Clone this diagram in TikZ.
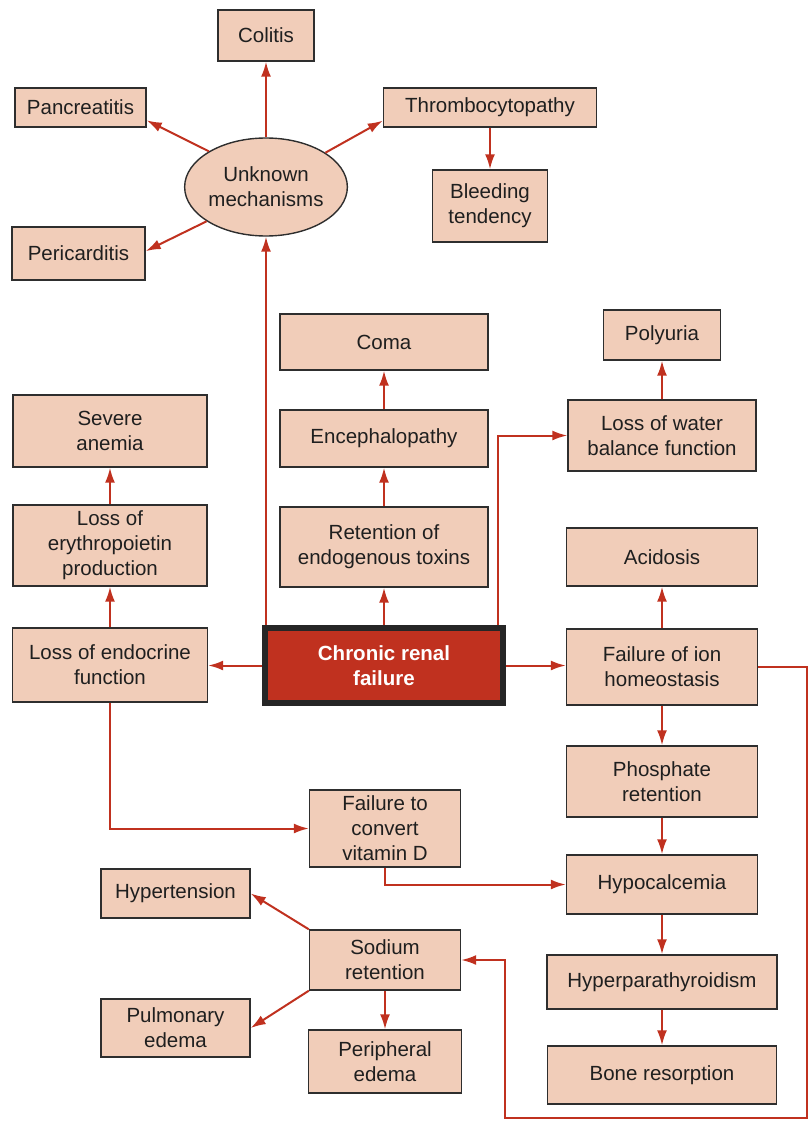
\documentclass[tikz,border=0pt]{standalone}
\usepackage{fontspec}
\setmainfont{Liberation Sans}
\usetikzlibrary{positioning, shapes.geometric, arrows.meta}
\definecolor{boxfill}{HTML}{F1CDB9}
\definecolor{linkred}{HTML}{C0311F}
\definecolor{edgegray}{HTML}{2E2E2E}

\begin{document}
\begin{tikzpicture}[
      x=1pt, y=-1pt,
      font=\fontsize{20.5}{25}\selectfont,
      box/.style={rectangle, draw=edgegray, line width=1.4pt, fill=boxfill,
        align=center, inner sep=2pt, text=black!88},
      core/.style={rectangle, draw=black!85, line width=6pt, fill=linkred,
        text=white, align=center, font=\fontsize{20.5}{25}\selectfont\bfseries,
        minimum width=238pt, minimum height=75pt},
      cause/.style={ellipse, draw=edgegray, line width=1.4pt, fill=boxfill,
        align=center, minimum width=154pt, minimum height=98pt, inner sep=0pt,
        text=black!88},
      arrow/.style={-{Latex[length=15pt, width=10pt]}, line width=2pt, draw=linkred}
    ]
    \useasboundingbox (0,0) rectangle (810,1121);

    \node[core] (crf) at (384,665.5) {Chronic renal\\failure};

    \node[cause] (unknown) at (266,187) {Unknown\\mechanisms};
    \node[box, minimum width=96pt, minimum height=51pt] (colitis) at (266,35.5) {Colitis};
    \node[box, minimum width=131pt, minimum height=39pt] (pancreatitis) at (80.5,107.5) {Pancreatitis};
    \node[box, minimum width=133pt, minimum height=53pt] (pericarditis) at (78.5,253.5) {Pericarditis};
    \node[box, minimum width=213pt, minimum height=39pt] (thrombo) at (490,107.5) {Thrombocytopathy};
    \node[box, minimum width=115pt, minimum height=72pt] (bleeding) at (490,206) {Bleeding\\tendency};

    \node[box, minimum width=208pt, minimum height=80pt] (toxins) at (384,547) {Retention of\\endogenous toxins};
    \node[box, minimum width=208pt, minimum height=57pt] (enceph) at (384,438.5) {Encephalopathy};
    \node[box, minimum width=208pt, minimum height=56pt] (coma) at (384,342) {Coma};

    \node[box, minimum width=188pt, minimum height=71pt] (water) at (662,435.5) {Loss of water\\balance function};
    \node[box, minimum width=117pt, minimum height=50pt] (polyuria) at (662,335) {Polyuria};

    \node[box, minimum width=195pt, minimum height=74pt] (endocrine) at (110,665) {Loss of endocrine\\function};
    \node[box, minimum width=194pt, minimum height=81pt] (erythro) at (110,545.5) {Loss of\\erythropoietin\\production};
    \node[box, minimum width=194pt, minimum height=72pt] (anemia) at (110,431) {Severe\\anemia};
    \node[box, minimum width=151pt, minimum height=77pt] (vitd) at (385,828.5) {Failure to\\convert\\vitamin D};

    \node[box, minimum width=191pt, minimum height=76pt] (ion) at (662,667) {Failure of ion\\homeostasis};
    \node[box, minimum width=191pt, minimum height=58pt] (acidosis) at (662,557) {Acidosis};
    \node[box, minimum width=191pt, minimum height=71pt] (phosphate) at (662,781.5) {Phosphate\\retention};
    \node[box, minimum width=191pt, minimum height=59pt] (hypocal) at (662,884.5) {Hypocalcemia};
    \node[box, minimum width=230pt, minimum height=54pt] (hyperpara) at (662,982) {Hyperparathyroidism};
    \node[box, minimum width=229pt, minimum height=58pt] (bone) at (662,1075) {Bone resorption};

    \node[box, minimum width=151pt, minimum height=60pt] (sodium) at (385,960) {Sodium\\retention};
    \node[box, minimum width=149pt, minimum height=49pt] (hypertension) at (175.5,893.5) {Hypertension};
    \node[box, minimum width=149pt, minimum height=58pt] (pulmonary) at (175.5,1028) {Pulmonary\\edema};
    \node[box, minimum width=153pt, minimum height=63pt] (peripheral) at (385,1061.5) {Peripheral\\edema};

    \coordinate (loopr) at (807,1118);
    \coordinate (loopl) at (505,1118);

    \draw[arrow] (unknown.south |- crf.north) -- (unknown.south);
    \draw[arrow] (unknown) -- (colitis);
    \draw[arrow] (unknown.148) -- (pancreatitis.-11);
    \draw[arrow] (unknown.210) -- (pericarditis.2);
    \draw[arrow] (unknown.30) -- (thrombo.-173);
    \draw[arrow] (thrombo) -- (bleeding);

    \draw[arrow] (crf) -- (toxins);
    \draw[arrow] (toxins) -- (enceph);
    \draw[arrow] (enceph) -- (coma);
    \draw[arrow] ([xshift=-8pt]crf.north east) |- (water.west);
    \draw[arrow] (water) -- (polyuria);

    \draw[arrow] (crf.west) -- (crf.west -| endocrine.east);
    \draw[arrow] (endocrine) -- (erythro);
    \draw[arrow] (erythro) -- (anemia);
    \draw[arrow] (endocrine.south) |- (vitd.west);
    \draw[arrow] (vitd.south) |- (hypocal.west);

    \draw[arrow] (crf.east) -- (crf.east -| ion.west);
    \draw[arrow] (ion) -- (acidosis);
    \draw[arrow] (ion) -- (phosphate);
    \draw[arrow] (phosphate) -- (hypocal);
    \draw[arrow] (hypocal) -- (hyperpara);
    \draw[arrow] (hyperpara) -- (bone);
    \draw[arrow] (ion.east) -| (loopr) -- (loopl) |- (sodium.east);

    \draw[arrow] (sodium.north west) -- (hypertension.east);
    \draw[arrow] (sodium.south west) -- (pulmonary.east);
    \draw[arrow] (sodium) -- (peripheral);
  \end{tikzpicture}
\end{document}
